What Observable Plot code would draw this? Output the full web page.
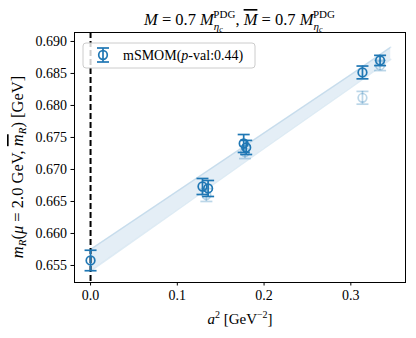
<!DOCTYPE html>
<html><head><meta charset="utf-8">
<script src="https://cdn.jsdelivr.net/npm/d3@7"></script>
<script src="https://cdn.jsdelivr.net/npm/@observablehq/plot@0.6"></script>
<style>body{margin:0;background:#fff} #chart svg{display:block}</style>
</head><body><div id="chart"></div>
<script>
// fitted ensembles
const a2Fit = [0.129, 0.1355, 0.1765, 0.1794, 0.3134, 0.3337];
const mFit = [0.66734, 0.66703, 0.67406, 0.67344, 0.68516, 0.68703];
const errFit = [0.00125, 0.00125, 0.0014, 0.0011, 0.001, 0.0008];
// faded points
const a2Faint = [0.1335, 0.178, 0.3134, 0.3337];
const mFaint = [0.6660, 0.6727, 0.6812, 0.68625];
const errFaint = [0.001, 0.001, 0.001, 0.0008];
// continuum value
const a2Cont = [0];
const mCont = [0.65578];
const errCont = [0.0016];
// fit band
const bandA2 = [0, 0.1, 0.2, 0.3, 0.346];
const bandLo = [0.6541, 0.6637, 0.6733, 0.6828, 0.6872];
const bandHi = [0.6575, 0.6666, 0.6757, 0.6848, 0.6891];
// ticks
const xTicks = [0, 0.1, 0.2, 0.3];
const yTicks = [0.655, 0.660, 0.665, 0.670, 0.675, 0.680, 0.685, 0.690];

const blue = "#1f77b4";
const toRows = (xs, ms, es) => xs.map((x, i) => ({a2: x, m: ms[i], e: es[i]}));
const fit = toRows(a2Fit, mFit, errFit);
const faint = toRows(a2Faint, mFaint, errFaint);
const cont = toRows(a2Cont, mCont, errCont);
const band = bandA2.map((x, i) => ({a2: x, lo: bandLo[i], hi: bandHi[i]}));

const capSymbol = {draw(ctx, size) { const w = Math.sqrt(size / Math.PI); ctx.moveTo(-w, 0); ctx.lineTo(w, 0); }};

function errMarks(data, op) {
  return [
    Plot.ruleX(data, {x: "a2", y1: d => d.m - d.e, y2: d => d.m + d.e, stroke: blue, strokeWidth: 1.7, strokeOpacity: op}),
    Plot.dot(data, {x: "a2", y: d => d.m - d.e, symbol: capSymbol, r: 6, fill: "none", stroke: blue, strokeWidth: 1.7, strokeOpacity: op}),
    Plot.dot(data, {x: "a2", y: d => d.m + d.e, symbol: capSymbol, r: 6, fill: "none", stroke: blue, strokeWidth: 1.7, strokeOpacity: op}),
    Plot.dot(data, {x: "a2", y: "m", r: 4.3, fill: "none", stroke: blue, strokeWidth: 1.7, strokeOpacity: op})
  ];
}

const chart = Plot.plot({
  width: 416, height: 338,
  marginLeft: 74, marginRight: 11, marginTop: 32, marginBottom: 56,
  x: {domain: [-0.0185, 0.363]},
  y: {domain: [0.65234, 0.6914]},
  style: {fontFamily: "Liberation Serif", fontSize: "14px", color: "black", background: "white"},
  marks: [
    Plot.areaY(band, {x: "a2", y1: "lo", y2: "hi", fill: blue, fillOpacity: 0.12}),
    Plot.lineY(band, {x: "a2", y: "lo", stroke: blue, strokeOpacity: 0.15}),
    Plot.lineY(band, {x: "a2", y: "hi", stroke: blue, strokeOpacity: 0.15}),
    Plot.ruleX([0], {stroke: "black", strokeWidth: 2, strokeDasharray: "6,3"}),
    ...errMarks(faint, 0.3),
    ...errMarks(fit, 1),
    ...errMarks(cont, 1),
    Plot.frame({stroke: "black", strokeWidth: 1}),
    Plot.axisX({ticks: xTicks, tickFormat: d3.format(".1f"), tickSize: 3.5, tickPadding: 4, label: null}),
    Plot.axisY({ticks: yTicks, tickFormat: d3.format(".3f"), tickSize: 3.5, tickPadding: 4, label: null})
  ]
});
document.getElementById("chart").append(chart);

const svg = d3.select(chart);
function addText(parent, pieces) {
  for (const p of pieces) {
    const ts = parent.append("tspan").text(p.t);
    if (p.it) ts.style("font-style", "italic");
    if (p.fs) ts.style("font-size", p.fs + "px");
    if (p.dy) ts.attr("dy", p.dy);
    if (p.dx) ts.attr("dx", p.dx);
    if (p.ol) ts.style("text-decoration", "overline");
  }
}
// title
const title = svg.append("text").attr("x", 239.5).attr("y", 25).attr("text-anchor", "middle")
  .style("font-size", "16.5px").attr("fill", "black");
const mEta = [
  {t: "M", it: true},
  {t: "η", it: true, fs: 11, dy: 5},
  {t: "c", it: true, fs: 8, dy: 1.5},
  {t: "PDG", fs: 11, dy: -13.5, dx: -9.5}
];
addText(title, [
  {t: "M", it: true}, {t: " = 0.7 "}, ...mEta,
  {t: ", ", dy: 7},
  {t: "M", it: true, ol: true}, {t: " = 0.7 "}, ...mEta
]);
// y label
const ylab = svg.append("text").attr("transform", "translate(23,167) rotate(-90)").attr("text-anchor", "middle")
  .style("font-size", "16.5px").attr("fill", "black");
addText(ylab, [
  {t: "m", it: true}, {t: "R", it: true, fs: 11, dy: 3}, {t: "(", dy: -3},
  {t: "μ", it: true}, {t: " = 2.0 GeV, "}, {t: "m", it: true, ol: true},
  {t: "R", it: true, fs: 11, dy: 3}, {t: ") [GeV]", dy: -3}
]);
// x label
const xlab = svg.append("text").attr("x", 240).attr("y", 324).attr("text-anchor", "middle")
  .style("font-size", "15px").attr("fill", "black");
addText(xlab, [
  {t: "a", it: true}, {t: "2", fs: 10, dy: -6}, {t: " [GeV", dy: 6},
  {t: "−2", fs: 10, dy: -6}, {t: "]", dy: 6}
]);
// legend
const lg = svg.append("g");
lg.append("rect").attr("x", 83).attr("y", 43).attr("width", 172).attr("height", 25).attr("rx", 3)
  .attr("fill", "white").attr("fill-opacity", 0.8).attr("stroke", "#cccccc");
lg.append("line").attr("x1", 103).attr("x2", 103).attr("y1", 48).attr("y2", 62).attr("stroke", blue).attr("stroke-width", 1.7);
lg.append("line").attr("x1", 97).attr("x2", 109).attr("y1", 48).attr("y2", 48).attr("stroke", blue).attr("stroke-width", 1.7);
lg.append("line").attr("x1", 97).attr("x2", 109).attr("y1", 62).attr("y2", 62).attr("stroke", blue).attr("stroke-width", 1.7);
lg.append("circle").attr("cx", 103).attr("cy", 55).attr("r", 4.3).attr("fill", "none").attr("stroke", blue).attr("stroke-width", 1.7);
const lt = lg.append("text").attr("x", 123).attr("y", 60).attr("text-anchor", "start").style("font-size", "14px").attr("fill", "black");
addText(lt, [{t: "mSMOM("}, {t: "p", it: true}, {t: "-val:0.44)"}]);
</script>
</body></html>
